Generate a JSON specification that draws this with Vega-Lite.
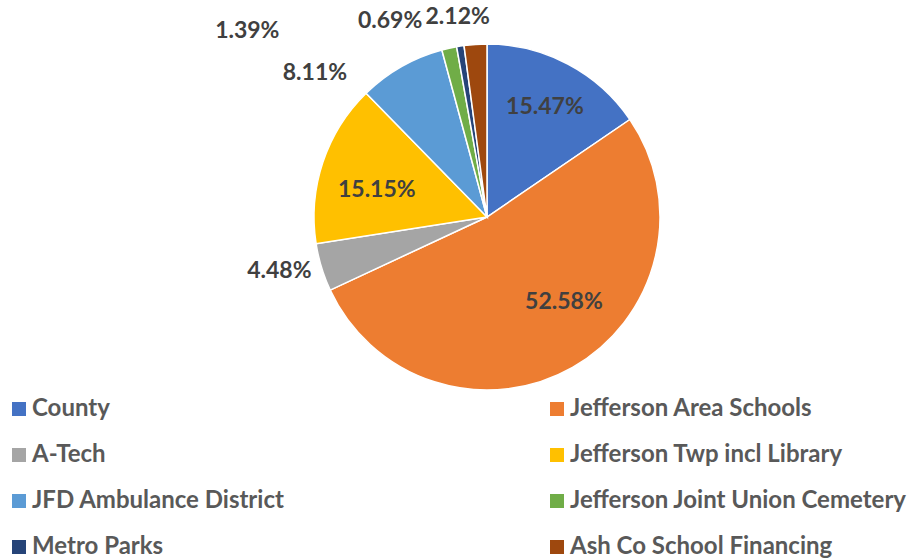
{
  "$schema": "https://vega.github.io/schema/vega-lite/v6.json",
  "width": 860,
  "height": 434,
  "autosize": {"type": "none"},
  "padding": {"left": 57, "top": 0, "right": 0, "bottom": 126},
  "background": "white",
  "config": {"view": {"stroke": null}, "font": "Lato"},
  "data": {
    "values": [
      {"name": "County", "value": 15.47, "label": "15.47%", "order": 1},
      {"name": "Jefferson Area Schools", "value": 52.58, "label": "52.58%", "order": 2},
      {"name": "A-Tech", "value": 4.48, "label": "4.48%", "order": 3},
      {"name": "Jefferson Twp incl Library", "value": 15.15, "label": "15.15%", "order": 4},
      {"name": "JFD Ambulance District", "value": 8.11, "label": "8.11%", "order": 5},
      {"name": "Jefferson Joint Union Cemetery", "value": 1.39, "label": "1.39%", "order": 6},
      {"name": "Metro Parks", "value": 0.69, "label": "0.69%", "order": 7},
      {"name": "Ash Co School Financing", "value": 2.12, "label": "2.12%", "order": 8}
    ]
  },
  "encoding": {
    "theta": {"field": "value", "type": "quantitative", "stack": true},
    "order": {"field": "order", "type": "quantitative"}
  },
  "layer": [
    {
      "mark": {"type": "arc", "outerRadius": 173, "stroke": "white", "strokeWidth": 1.5},
      "encoding": {
        "color": {
          "field": "name",
          "type": "nominal",
          "sort": ["County", "Jefferson Area Schools", "A-Tech", "Jefferson Twp incl Library", "JFD Ambulance District", "Jefferson Joint Union Cemetery", "Metro Parks", "Ash Co School Financing"],
          "scale": {
            "domain": ["County", "Jefferson Area Schools", "A-Tech", "Jefferson Twp incl Library", "JFD Ambulance District", "Jefferson Joint Union Cemetery", "Metro Parks", "Ash Co School Financing"],
            "range": ["#4472C4", "#ED7D31", "#A5A5A5", "#FFC000", "#5B9BD5", "#70AD47", "#264478", "#9E480E"]
          },
          "legend": {
            "orient": "none",
            "legendX": -50,
            "legendY": 397,
            "direction": "horizontal",
            "columns": 2,
            "title": null,
            "symbolType": "square",
            "symbolSize": 196,
            "symbolStrokeWidth": 0,
            "labelFont": "Lato",
            "labelFontSize": 24,
            "labelFontWeight": "bold",
            "labelColor": "#595959",
            "labelOffset": 1,
            "labelLimit": 0,
            "rowPadding": 22,
            "columnPadding": 260
          }
        }
      }
    },
    {
      "mark": {"type": "text", "radius": 124, "fontSize": 23, "fontWeight": "bold", "fill": "#404040", "align": "center", "baseline": "middle"},
      "encoding": {"text": {"condition": {"test": "datum.name === 'County'", "field": "label"}, "value": ""}}
    },
    {
      "mark": {"type": "text", "radius": 115, "dx": 20, "dy": -15, "fontSize": 23, "fontWeight": "bold", "fill": "#404040", "align": "center", "baseline": "middle"},
      "encoding": {"text": {"condition": {"test": "datum.name === 'Jefferson Area Schools'", "field": "label"}, "value": ""}}
    },
    {
      "mark": {"type": "text", "radius": 113, "dx": -3, "dy": 9, "fontSize": 23, "fontWeight": "bold", "fill": "#404040", "align": "center", "baseline": "middle"},
      "encoding": {"text": {"condition": {"test": "datum.name === 'Jefferson Twp incl Library'", "field": "label"}, "value": ""}}
    },
    {
      "mark": {"type": "text", "radius": 215, "dx": -2, "dy": -9, "fontSize": 23, "fontWeight": "bold", "fill": "#404040", "align": "center", "baseline": "middle"},
      "encoding": {"text": {"condition": {"test": "datum.name === 'A-Tech'", "field": "label"}, "value": ""}}
    },
    {
      "mark": {"type": "text", "radius": 224, "dx": -61, "dy": 51, "fontSize": 23, "fontWeight": "bold", "fill": "#404040", "align": "center", "baseline": "middle"},
      "encoding": {"text": {"condition": {"test": "datum.name === 'JFD Ambulance District'", "field": "label"}, "value": ""}}
    },
    {
      "mark": {"type": "text", "radius": 200, "dx": -196, "dy": 9, "fontSize": 23, "fontWeight": "bold", "fill": "#404040", "align": "center", "baseline": "middle"},
      "encoding": {"text": {"condition": {"test": "datum.name === 'Jefferson Joint Union Cemetery'", "field": "label"}, "value": ""}}
    },
    {
      "mark": {"type": "text", "radius": 200, "dx": -66, "dy": 2, "fontSize": 23, "fontWeight": "bold", "fill": "#404040", "align": "center", "baseline": "middle"},
      "encoding": {"text": {"condition": {"test": "datum.name === 'Metro Parks'", "field": "label"}, "value": ""}}
    },
    {
      "mark": {"type": "text", "radius": 200, "dx": -16, "dy": 0, "fontSize": 23, "fontWeight": "bold", "fill": "#404040", "align": "center", "baseline": "middle"},
      "encoding": {"text": {"condition": {"test": "datum.name === 'Ash Co School Financing'", "field": "label"}, "value": ""}}
    }
  ]
}
